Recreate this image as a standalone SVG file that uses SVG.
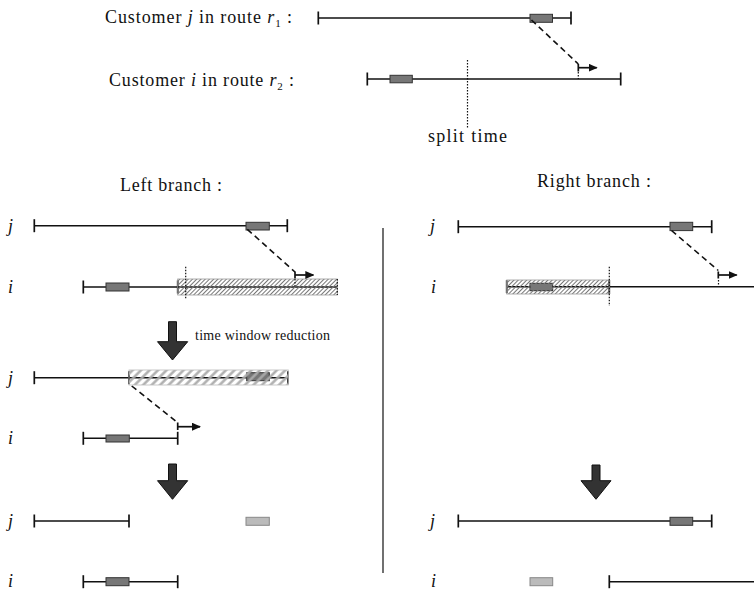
<svg xmlns="http://www.w3.org/2000/svg" width="754" height="592" viewBox="0 0 754 592">
<style>
.ln{stroke:#111;stroke-width:1.5;fill:none}
.tk{stroke:#111;stroke-width:1.7}
.box{fill:#777;stroke:#333;stroke-width:1}
.lbox{fill:#bbb;stroke:#888;stroke-width:1}
.dash{stroke:#111;stroke-width:1.6;stroke-dasharray:6 4;fill:none}
.dot{stroke:#111;stroke-width:1.2;stroke-dasharray:1.5 1.5}
.big{fill:#333;stroke:#111;stroke-width:1}
.arr{stroke:#111;stroke-width:1.7;fill:none}
.t{font-family:"Liberation Serif","DejaVu Serif",serif;font-size:18px;fill:#111}
.s{font-family:"Liberation Serif","DejaVu Serif",serif;font-size:14px;fill:#111}
.m{font-style:italic}
.h1{fill:url(#hatch1);stroke:#999;stroke-width:0.8}
.h2{fill:url(#hatch2);stroke:#bbb;stroke-width:0.8}
</style>
<defs>
<pattern id="hatch1" patternUnits="userSpaceOnUse" width="3" height="3" patternTransform="rotate(45)">
<line x1="0.5" y1="0" x2="0.5" y2="3" stroke="#777" stroke-width="1"/>
</pattern>
<pattern id="hatch2" patternUnits="userSpaceOnUse" width="6" height="6" patternTransform="rotate(45)">
<line x1="1.5" y1="0" x2="1.5" y2="6" stroke="#aaa" stroke-width="2.4"/>
</pattern>
<marker id="ah" markerWidth="9" markerHeight="8" refX="8" refY="4" orient="auto" markerUnits="userSpaceOnUse">
<path d="M0,0 L9,4 L0,8 z" fill="#111"/>
</marker>
</defs>

<!-- Top -->
<g id="top-j">
<text class="t" x="105" y="23" textLength="187" lengthAdjust="spacing">Customer <tspan class="m">j</tspan> in route <tspan class="m">r</tspan><tspan font-size="11" dy="4">1</tspan><tspan dy="-4"> :</tspan></text>
<line class="ln" x1="318.3" y1="18" x2="571" y2="18"/>
<line class="tk" x1="318.3" y1="11.5" x2="318.3" y2="24.5"/>
<line class="tk" x1="571" y1="11.5" x2="571" y2="24.5"/>
<rect class="box" x="530" y="14.3" width="22.5" height="8"/>
</g>
<g id="top-i">
<text class="t" x="109" y="86" textLength="185" lengthAdjust="spacing">Customer <tspan class="m">i</tspan> in route <tspan class="m">r</tspan><tspan font-size="11" dy="4">2</tspan><tspan dy="-4"> :</tspan></text>
<line class="ln" x1="367.3" y1="79" x2="620.7" y2="79"/>
<line class="tk" x1="367.3" y1="72.5" x2="367.3" y2="85.5"/>
<line class="tk" x1="620.7" y1="72.5" x2="620.7" y2="85.5"/>
<rect class="box" x="390" y="75.3" width="22.3" height="7.5"/>
<line class="dot" x1="578.3" y1="72" x2="578.3" y2="79"/>
</g>
<g id="split">
<line class="dot" x1="467.5" y1="60" x2="467.5" y2="128"/>
<text class="t" x="467.5" y="142" text-anchor="middle" textLength="79" lengthAdjust="spacing">split time</text>
</g>

<!-- Branch titles -->
<g id="left-title"><text class="t" x="120" y="191" textLength="102" lengthAdjust="spacing">Left branch :</text></g>
<g id="right-title"><text class="t" x="537" y="187" textLength="114" lengthAdjust="spacing">Right branch :</text></g>

<line id="divider" x1="383" y1="228" x2="383" y2="573" stroke="#111" stroke-width="1.2"/>

<!-- Left branch row 1 -->
<g id="L1-j">
<text class="t m" x="8" y="232">j</text>
<line class="ln" x1="34.3" y1="225.7" x2="287.3" y2="225.7"/>
<line class="tk" x1="34.3" y1="219.2" x2="34.3" y2="232.2"/>
<line class="tk" x1="287.3" y1="219.2" x2="287.3" y2="232.2"/>
<rect class="box" x="246" y="222.3" width="23.3" height="7.7"/>
</g>
<g id="L1-i">
<text class="t m" x="8" y="293">i</text>
<line class="ln" x1="83.3" y1="287" x2="337" y2="287"/>
<line class="tk" x1="83.3" y1="280.5" x2="83.3" y2="293.5"/>
<line class="tk" x1="177.7" y1="280.5" x2="177.7" y2="293.5"/>
<rect class="box" x="106" y="283" width="23" height="8"/>
<rect class="h1" x="177.7" y="279" width="159.6" height="16"/>
<line class="dot" x1="337.3" y1="279" x2="337.3" y2="295"/>
<line class="dot" x1="295" y1="279" x2="295" y2="287"/>
<line class="dot" x1="185.7" y1="266.7" x2="185.7" y2="299"/>
</g>

<g id="arrow1">
<polygon class="big" points="168.5,321.7 176.5,321.7 176.5,341.7 187.7,341.7 172.5,360 157.5,341.7 168.5,341.7"/>
<text class="s" x="195" y="340" textLength="135" lengthAdjust="spacing">time window reduction</text>
</g>

<!-- Left branch row 2 -->
<g id="L2-j">
<text class="t m" x="8" y="384">j</text>
<line class="ln" x1="34.3" y1="377.7" x2="288" y2="377.7"/>
<line class="tk" x1="34.3" y1="371.2" x2="34.3" y2="384.2"/>
<line class="tk" x1="129" y1="371.2" x2="129" y2="384.2"/>
<line class="tk" x1="288" y1="371.2" x2="288" y2="384.2"/>
<rect class="box" x="246.7" y="372.7" width="22.6" height="8"/>
<rect class="h2" x="129" y="370" width="159.3" height="15"/>
</g>
<g id="L2-i">
<text class="t m" x="8" y="444">i</text>
<line class="ln" x1="83.3" y1="438.3" x2="177.7" y2="438.3"/>
<line class="tk" x1="83.3" y1="431.8" x2="83.3" y2="444.8"/>
<line class="tk" x1="177.7" y1="431.8" x2="177.7" y2="444.8"/>
<rect class="box" x="106" y="435" width="23.3" height="7"/>
</g>

<g id="arrow2">
<polygon class="big" points="168.5,464 176.5,464 176.5,480.7 187.7,480.7 172.5,499.3 157.5,480.7 168.5,480.7"/>
</g>

<!-- Left branch row 3 -->
<g id="L3-j">
<text class="t m" x="8" y="527">j</text>
<line class="ln" x1="34.3" y1="521" x2="129" y2="521"/>
<line class="tk" x1="34.3" y1="514.5" x2="34.3" y2="527.5"/>
<line class="tk" x1="129" y1="514.5" x2="129" y2="527.5"/>
<rect class="lbox" x="246" y="517.3" width="23.3" height="8"/>
</g>
<g id="L3-i">
<text class="t m" x="8" y="587">i</text>
<line class="ln" x1="83.3" y1="581.7" x2="177.7" y2="581.7"/>
<line class="tk" x1="83.3" y1="575.2" x2="83.3" y2="588.2"/>
<line class="tk" x1="177.7" y1="575.2" x2="177.7" y2="588.2"/>
<rect class="box" x="106" y="577.7" width="23" height="8"/>
</g>

<!-- Right branch row 1 -->
<g id="R1-j">
<text class="t m" x="430" y="232">j</text>
<line class="ln" x1="458.3" y1="226.7" x2="711.7" y2="226.7"/>
<line class="tk" x1="458.3" y1="220.2" x2="458.3" y2="233.2"/>
<line class="tk" x1="711.7" y1="220.2" x2="711.7" y2="233.2"/>
<rect class="box" x="670" y="222.3" width="22.7" height="8.3"/>
</g>
<g id="R1-i">
<text class="t m" x="431" y="293">i</text>
<line class="ln" x1="506.7" y1="286.7" x2="754" y2="286.7"/>
<line class="tk" x1="506.7" y1="280.2" x2="506.7" y2="293.2"/>
<line class="tk" x1="609.3" y1="280" x2="609.3" y2="294"/>
<rect class="box" x="530" y="283.3" width="22.7" height="7.4"/>
<rect class="h1" x="506.7" y="280" width="102.6" height="14"/>
<line class="dot" x1="609.3" y1="266.7" x2="609.3" y2="306"/>
<line class="dot" x1="718.5" y1="280" x2="718.5" y2="286.7"/>
</g>

<g id="arrow3">
<polygon class="big" points="592,465 600,465 600,480.7 611,480.7 596,499.3 581,480.7 592,480.7"/>
</g>

<!-- Right branch row 2 -->
<g id="R2-j">
<text class="t m" x="430" y="527">j</text>
<line class="ln" x1="458.3" y1="521" x2="711.7" y2="521"/>
<line class="tk" x1="458.3" y1="514.5" x2="458.3" y2="527.5"/>
<line class="tk" x1="711.7" y1="514.5" x2="711.7" y2="527.5"/>
<rect class="box" x="670" y="517.3" width="22.7" height="8"/>
</g>
<g id="R2-i">
<text class="t m" x="431" y="587">i</text>
<rect class="lbox" x="530" y="577.7" width="22.7" height="8"/>
<line class="ln" x1="609.3" y1="581.7" x2="754" y2="581.7"/>
<line class="tk" x1="609.3" y1="575.2" x2="609.3" y2="588.2"/>
</g>

<!-- Connectors -->
<g id="connectors">
<line class="dash" x1="531.5" y1="20" x2="578.3" y2="64"/>
<line class="tk" x1="578.3" y1="64" x2="578.3" y2="71.5"/>
<line class="arr" x1="578.3" y1="67.7" x2="596.7" y2="67.7" marker-end="url(#ah)"/>

<line class="dash" x1="247.3" y1="229.3" x2="295" y2="272"/>
<line class="tk" x1="295" y1="271.5" x2="295" y2="278.5"/>
<line class="arr" x1="295" y1="275" x2="313.3" y2="275" marker-end="url(#ah)"/>

<line class="dash" x1="131.7" y1="386" x2="176.7" y2="422"/>
<line class="tk" x1="177.7" y1="422.5" x2="177.7" y2="430"/>
<line class="arr" x1="177.7" y1="426.7" x2="200" y2="426.7" marker-end="url(#ah)"/>

<line class="dash" x1="671.5" y1="230.5" x2="718.3" y2="270.5"/>
<line class="tk" x1="718.3" y1="271.5" x2="718.3" y2="278.5"/>
<line class="arr" x1="718.3" y1="275" x2="736.7" y2="275" marker-end="url(#ah)"/>
</g>
</svg>
